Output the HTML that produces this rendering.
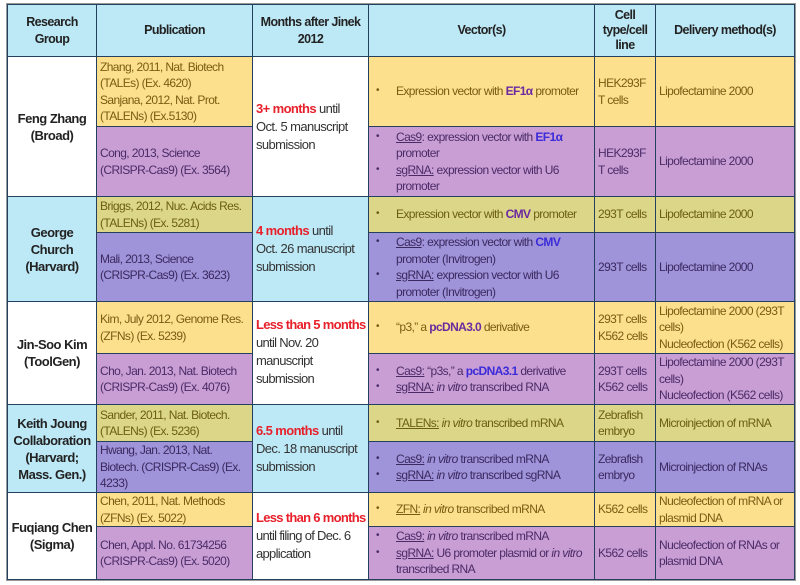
<!DOCTYPE html>
<html><head><meta charset="utf-8"><style>
body{margin:0;width:800px;height:585px;background:#fff;font-family:"Liberation Sans",Arial,sans-serif;overflow:hidden}
.c{position:absolute;box-sizing:border-box;border:1.5px solid #23405e;display:flex;flex-direction:column;justify-content:center;font-size:12px;line-height:16.5px;letter-spacing:-0.6px;padding:0 3px;white-space:nowrap}
.h{background:#bde9f7;font-weight:bold;color:#222;text-align:center;align-items:center;font-size:12.5px}
.g{font-weight:bold;color:#222;text-align:center;align-items:center;font-size:13px;line-height:17px;letter-spacing:-0.5px}
.w{background:#fff}.lb{background:#bde9f7}
.y{background:#fde08e;color:#7a5c12}
.p{background:#c89ed5;color:#4b2b66}
.o{background:#dcd688;color:#6b5e14}
.v{background:#9f93d9;color:#3a2a60}
.m{color:#333}
.r{color:#e8202a;font-weight:bold}
.b{color:#6a2aa0;font-weight:bold}
.bb{color:#3b2bd8;font-weight:bold}
ul{margin:0;padding:0 0 0 24px;list-style:none}
li{position:relative}
li:before{content:"•";position:absolute;left:-20px;font-size:10px}
u{text-decoration:underline}
</style></head><body>
<div style="position:absolute;left:6px;top:3px;width:790px;height:578px;border:1px solid #999;box-sizing:border-box"></div>
<!-- header -->
<div class="c h" style="left:7px;top:4px;width:90px;height:53px">Research<br>Group</div>
<div class="c h" style="left:96px;top:4px;width:157px;height:53px">Publication</div>
<div class="c h" style="left:252px;top:4px;width:117px;height:53px">Months after Jinek<br>2012</div>
<div class="c h" style="left:368px;top:4px;width:227px;height:53px">Vector(s)</div>
<div class="c h" style="left:594px;top:4px;width:62px;height:53px;line-height:15px">Cell<br>type/cell<br>line</div>
<div class="c h" style="left:655px;top:4px;width:140px;height:53px">Delivery method(s)</div>

<!-- Zhang -->
<div class="c g w" style="left:7px;top:56px;width:90px;height:141px">Feng Zhang<br>(Broad)</div>
<div class="c y" style="left:96px;top:56px;width:157px;height:71px">Zhang, 2011, Nat. Biotech<br>(TALEs) (Ex. 4620)<br>Sanjana, 2012, Nat. Prot.<br>(TALENs) (Ex.5130)</div>
<div class="c p" style="left:96px;top:126px;width:157px;height:71px">Cong, 2013, Science<br>(CRISPR-Cas9) (Ex. 3564)</div>
<div class="c w m" style="left:252px;top:56px;width:117px;height:141px;font-size:13px;line-height:18px"><div><span class="r">3+ months</span> until<br>Oct. 5 manuscript<br>submission</div></div>
<div class="c y" style="left:368px;top:56px;width:227px;height:71px"><ul><li>Expression vector with <span class="b">EF1α</span> promoter</li></ul></div>
<div class="c y" style="left:594px;top:56px;width:62px;height:71px">HEK293F<br>T cells</div>
<div class="c y" style="left:655px;top:56px;width:140px;height:71px">Lipofectamine 2000</div>
<div class="c p" style="left:368px;top:126px;width:227px;height:71px"><ul><li><u>Cas9</u>: expression vector with <span class="bb">EF1α</span><br>promoter</li><li><u>sgRNA:</u> expression vector with U6<br>promoter</li></ul></div>
<div class="c p" style="left:594px;top:126px;width:62px;height:71px">HEK293F<br>T cells</div>
<div class="c p" style="left:655px;top:126px;width:140px;height:71px">Lipofectamine 2000</div>

<!-- Church -->
<div class="c g lb" style="left:7px;top:196px;width:90px;height:106px">George<br>Church<br>(Harvard)</div>
<div class="c o" style="left:96px;top:196px;width:157px;height:37px">Briggs, 2012, Nuc. Acids Res.<br>(TALENs) (Ex. 5281)</div>
<div class="c v" style="left:96px;top:232px;width:157px;height:70px">Mali, 2013, Science<br>(CRISPR-Cas9) (Ex. 3623)</div>
<div class="c lb m" style="left:252px;top:196px;width:117px;height:106px;font-size:13px;line-height:18px"><div><span class="r">4 months</span> until<br>Oct. 26 manuscript<br>submission</div></div>
<div class="c o" style="left:368px;top:196px;width:227px;height:37px"><ul><li>Expression vector with <span class="b">CMV</span> promoter</li></ul></div>
<div class="c o" style="left:594px;top:196px;width:62px;height:37px">293T cells</div>
<div class="c o" style="left:655px;top:196px;width:140px;height:37px">Lipofectamine 2000</div>
<div class="c v" style="left:368px;top:232px;width:227px;height:70px"><ul><li><u>Cas9</u>: expression vector with <span class="bb">CMV</span><br>promoter (Invitrogen)</li><li><u>sgRNA:</u> expression vector with U6<br>promoter (Invitrogen)</li></ul></div>
<div class="c v" style="left:594px;top:232px;width:62px;height:70px">293T cells</div>
<div class="c v" style="left:655px;top:232px;width:140px;height:70px">Lipofectamine 2000</div>

<!-- Kim -->
<div class="c g w" style="left:7px;top:301px;width:90px;height:104px">Jin-Soo Kim<br>(ToolGen)</div>
<div class="c y" style="left:96px;top:301px;width:157px;height:53px">Kim, July 2012, Genome Res.<br>(ZFNs) (Ex. 5239)</div>
<div class="c p" style="left:96px;top:353px;width:157px;height:52px">Cho, Jan. 2013, Nat. Biotech<br>(CRISPR-Cas9) (Ex. 4076)</div>
<div class="c w m" style="left:252px;top:301px;width:117px;height:104px;font-size:13px;line-height:18px;letter-spacing:-0.7px;justify-content:flex-start;padding-top:14px"><div><span class="r">Less than 5 months</span><br>until Nov. 20<br>manuscript<br>submission</div></div>
<div class="c y" style="left:368px;top:301px;width:227px;height:53px"><ul><li>“p3,” a <span class="b">pcDNA3.0</span> derivative</li></ul></div>
<div class="c y" style="left:594px;top:301px;width:62px;height:53px">293T cells<br>K562 cells</div>
<div class="c y" style="left:655px;top:301px;width:140px;height:53px">Lipofectamine 2000 (293T<br>cells)<br>Nucleofection (K562 cells)</div>
<div class="c p" style="left:368px;top:353px;width:227px;height:52px"><ul><li><u>Cas9:</u> “p3s,” a <span class="bb">pcDNA3.1</span> derivative</li><li><u>sgRNA:</u> <i>in vitro</i> transcribed RNA</li></ul></div>
<div class="c p" style="left:594px;top:353px;width:62px;height:52px">293T cells<br>K562 cells</div>
<div class="c p" style="left:655px;top:353px;width:140px;height:52px">Lipofectamine 2000 (293T<br>cells)<br>Nucleofection (K562 cells)</div>

<!-- Joung -->
<div class="c g lb" style="left:7px;top:404px;width:90px;height:89px">Keith Joung<br>Collaboration<br>(Harvard;<br>Mass. Gen.)</div>
<div class="c o" style="left:96px;top:404px;width:157px;height:38px">Sander, 2011, Nat. Biotech.<br>(TALENs) (Ex. 5236)</div>
<div class="c v" style="left:96px;top:441px;width:157px;height:52px">Hwang, Jan. 2013, Nat.<br>Biotech. (CRISPR-Cas9) (Ex.<br>4233)</div>
<div class="c lb m" style="left:252px;top:404px;width:117px;height:89px;font-size:13px;line-height:18px"><div><span class="r">6.5 months</span> until<br>Dec. 18 manuscript<br>submission</div></div>
<div class="c o" style="left:368px;top:404px;width:227px;height:38px"><ul><li><u>TALENs:</u> <i>in vitro</i> transcribed mRNA</li></ul></div>
<div class="c o" style="left:594px;top:404px;width:62px;height:38px">Zebrafish<br>embryo</div>
<div class="c o" style="left:655px;top:404px;width:140px;height:38px">Microinjection of mRNA</div>
<div class="c v" style="left:368px;top:441px;width:227px;height:52px"><ul><li><u>Cas9:</u> <i>in vitro</i> transcribed mRNA</li><li><u>sgRNA:</u> <i>in vitro</i> transcribed sgRNA</li></ul></div>
<div class="c v" style="left:594px;top:441px;width:62px;height:52px">Zebrafish<br>embryo</div>
<div class="c v" style="left:655px;top:441px;width:140px;height:52px">Microinjection of RNAs</div>

<!-- Chen -->
<div class="c g w" style="left:7px;top:492px;width:90px;height:88px">Fuqiang Chen<br>(Sigma)</div>
<div class="c y" style="left:96px;top:492px;width:157px;height:35px">Chen, 2011, Nat. Methods<br>(ZFNs) (Ex. 5022)</div>
<div class="c p" style="left:96px;top:526px;width:157px;height:54px">Chen, Appl. No. 61734256<br>(CRISPR-Cas9) (Ex. 5020)</div>
<div class="c w m" style="left:252px;top:492px;width:117px;height:88px;font-size:13px;line-height:18px;letter-spacing:-0.7px"><div><span class="r">Less than 6 months</span><br>until filing of Dec. 6<br>application</div></div>
<div class="c y" style="left:368px;top:492px;width:227px;height:35px"><ul><li><u>ZFN:</u> <i>in vitro</i> transcribed mRNA</li></ul></div>
<div class="c y" style="left:594px;top:492px;width:62px;height:35px">K562 cells</div>
<div class="c y" style="left:655px;top:492px;width:140px;height:35px">Nucleofection of mRNA or<br>plasmid DNA</div>
<div class="c p" style="left:368px;top:526px;width:227px;height:54px"><ul><li><u>Cas9:</u> <i>in vitro</i> transcribed mRNA</li><li><u>sgRNA:</u> U6 promoter plasmid or <i>in vitro</i><br>transcribed RNA</li></ul></div>
<div class="c p" style="left:594px;top:526px;width:62px;height:54px">K562 cells</div>
<div class="c p" style="left:655px;top:526px;width:140px;height:54px">Nucleofection of RNAs or<br>plasmid DNA</div>
</body></html>
